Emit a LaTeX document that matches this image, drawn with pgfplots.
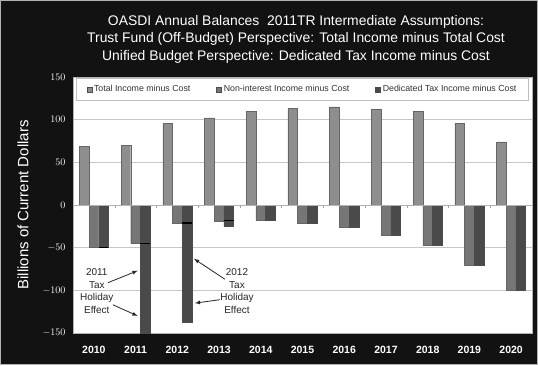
\documentclass[border=0pt]{standalone}
\usepackage{pgfplots}
\pgfplotsset{compat=1.18}
\usepackage{fontspec}
\setmainfont{Liberation Sans}
\definecolor{cTot}{HTML}{8E8E8E}
\definecolor{cNon}{HTML}{767676}
\definecolor{cDed}{HTML}{4A4A4A}
\begin{document}
\begin{tikzpicture}
\fill[black!93] (0pt,0pt) rectangle (538pt,365pt);
\draw[gray!60, line width=1.2pt] (0.6pt,0.6pt) rectangle (537.4pt,364.4pt);
\node[white, align=center, font=\fontsize{13.9}{17.5}\selectfont] at (296pt,326pt)
 {OASDI Annual Balances\ \ 2011TR Intermediate Assumptions:\\
  Trust Fund (Off-Budget) Perspective: Total Income minus Total Cost\\
  Unified Budget Perspective: Dedicated Tax Income minus Cost};
\begin{axis}[
  at={(73pt,32pt)}, anchor=south west,
  scale only axis, width=459pt, height=256pt,
  xmin=-0.5, xmax=10.5, ymin=-150, ymax=150,
  ytick={-150,-100,...,150},
  xtick={0,...,10},
  xticklabels={2010,2011,2012,2013,2014,2015,2016,2017,2018,2019,2020},
  x tick label style={font=\fontsize{10.5}{12}\selectfont\bfseries, white, yshift=-10pt},
  y tick label style={font=\fontsize{10}{12}\selectfont, white, xshift=-4pt},
  major tick length=0pt,
  ymajorgrids, grid style={gray!45, line width=0.8pt},
  axis line style={gray!60},
  axis background/.style={fill=white},
  ylabel={Billions of Current Dollars},
  ylabel style={white, font=\fontsize{15}{17}\selectfont, anchor=center, at={(axis description cs:-0.109,0.5)}},
  legend columns=3,
  legend style={at={(0.5,0.995)}, anchor=north, draw=gray!50, fill=white,
    font=\fontsize{8.8}{10}\selectfont, text=black!80,
    /tikz/every even column/.append style={column sep=24pt},
    inner xsep=10pt, inner ysep=5pt},
  legend image code/.code={\draw[#1, draw=black!70] (0pt,-2.5pt) rectangle (5pt,2.5pt);},
  clip=true,
]
\addplot[ybar, bar width=9.7pt, bar shift=-9.7pt, fill=cTot, draw=black!60] coordinates {(0,69) (1,70) (2,96) (3,102) (4,110) (5,113) (6,115) (7,112) (8,110) (9,96) (10,74)};
\addplot[ybar, bar width=9.7pt, bar shift=0pt, fill=cNon, draw=black!60] coordinates {(0,-50) (1,-45) (2,-21) (3,-19) (4,-17.5) (5,-21) (6,-26) (7,-35) (8,-47.5) (9,-71) (10,-100)};
\addplot[ybar, bar width=9.7pt, bar shift=9.7pt, fill=cDed, draw=black!70] coordinates {(0,-50) (1,-165) (2,-137) (3,-25) (4,-17.5) (5,-21) (6,-26) (7,-35) (8,-47.5) (9,-71) (10,-100)};
\legend{Total Income minus Cost,Non-interest Income minus Cost,Dedicated Tax Income minus Cost}
\addplot[black, only marks, mark=-, mark size=4.85pt, mark options={line width=1.2pt}, forget plot]
 coordinates {(0.233,-50) (1.233,-45) (2.233,-21) (3.233,-18)};
\draw[gray!60, line width=0.5pt] (axis cs:-0.5,0) -- (axis cs:10.5,0);
\pgfplotsinvokeforeach{0.5,1.5,2.5,3.5,4.5,5.5,6.5,7.5,8.5,9.5}{\draw[gray!70] (axis cs:#1,0) -- (axis cs:#1,-3);}
\node[align=center, font=\fontsize{10}{12.5}\selectfont, text=black!85] at (axis cs:0.07,-101) {2011\\Tax\\Holiday\\Effect};
\node[align=center, font=\fontsize{10}{12.5}\selectfont, text=black!85] at (axis cs:3.43,-101) {2012\\Tax\\Holiday\\Effect};
\draw[-latex, black!85, line width=0.8pt] (axis cs:0.34,-91) -- (axis cs:1.05,-77);
\draw[-latex, black!85, line width=0.8pt] (axis cs:0.46,-117) -- (axis cs:1.05,-130);
\draw[-latex, black!85, line width=0.8pt] (axis cs:3.14,-87) -- (axis cs:2.40,-63);
\draw[-latex, black!85, line width=0.8pt] (axis cs:3.02,-111) -- (axis cs:2.42,-115);
\end{axis}
\end{tikzpicture}
\end{document}
